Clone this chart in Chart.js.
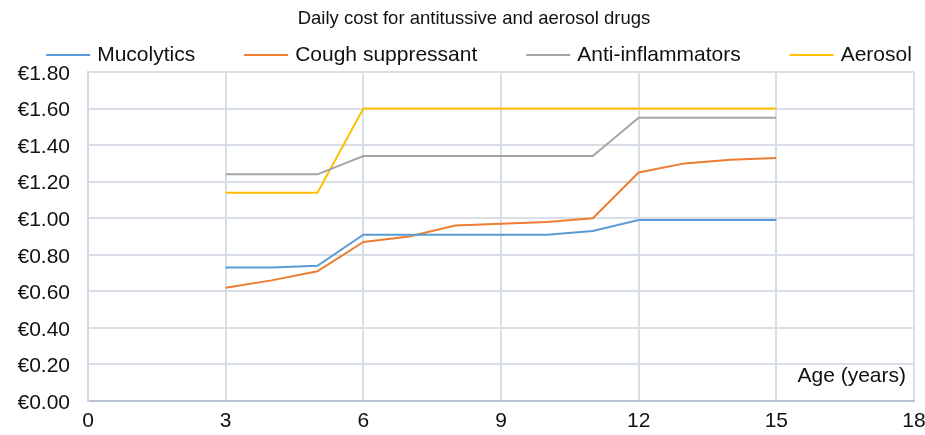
<!DOCTYPE html>
<html>
<head>
<meta charset="utf-8">
<script src="https://cdn.jsdelivr.net/npm/chart.js@4.4.1/dist/chart.umd.min.js"></script>
<style>
    html, body { margin: 0; padding: 0; background: #fff; }
    #wrap { width: 925px; height: 435px; }
</style>
</head>
<body>
<div id="wrap"><canvas id="costChart"></canvas></div>
<script>
// ages in years
const ages = [3, 4, 5, 6, 7, 8, 9, 10, 11, 12, 13, 14, 15];
const mucolytics = [0.73, 0.73, 0.74, 0.91, 0.91, 0.91, 0.91, 0.91, 0.93, 0.99, 0.99, 0.99, 0.99];
const coughSuppressant = [0.62, 0.66, 0.71, 0.87, 0.90, 0.96, 0.97, 0.98, 1.00, 1.25, 1.30, 1.32, 1.33];
const antiInflammatory = [1.24, 1.24, 1.24, 1.34, 1.34, 1.34, 1.34, 1.34, 1.34, 1.55, 1.55, 1.55, 1.55];
const aerosol = [1.14, 1.14, 1.14, 1.60, 1.60, 1.60, 1.60, 1.60, 1.60, 1.60, 1.60, 1.60, 1.60];
const xTicks = [0, 3, 6, 9, 12, 15, 18];

const FONT = 'Liberation Sans, Arial, sans-serif';
const TITLE = 'Daily cost for antitussive and aerosol drugs';
const pts = (vals) => vals.map((v, i) => ({ x: ages[i], y: v }));
const line = (label, vals, color) => ({
    label, data: pts(vals), borderColor: color, backgroundColor: color,
    borderWidth: 2, pointRadius: 0, tension: 0, fill: false,
});

// title, legend row and the in-plot "Age (years)" label
const decorations = {
    id: 'decorations',
    afterDraw(chart) {
        const { ctx, chartArea } = chart;
        ctx.save();
        ctx.fillStyle = '#111';
        ctx.textBaseline = 'middle';

        ctx.font = `18.5px ${FONT}`;
        ctx.textAlign = 'center';
        ctx.fillText(TITLE, 474, 19);

        ctx.font = `21px ${FONT}`;
        ctx.textAlign = 'right';
        ctx.fillText('Age (years)', chartArea.right - 8, chartArea.bottom - 25);

        ctx.textAlign = 'left';
        const sample = 44, gapText = 7, gapItem = 49, y = 55, center = 479;
        const items = chart.data.datasets.map((ds) => ({ ds, w: ctx.measureText(ds.label).width }));
        const total = items.reduce((s, it) => s + sample + gapText + it.w, 0) + gapItem * (items.length - 1);
        let x = center - total / 2;
        items.forEach(({ ds, w }) => {
            ctx.strokeStyle = ds.borderColor;
            ctx.lineWidth = 2;
            ctx.beginPath();
            ctx.moveTo(x, y);
            ctx.lineTo(x + sample, y);
            ctx.stroke();
            ctx.fillText(ds.label, x + sample + gapText, y);
            x += sample + gapText + w + gapItem;
        });
        ctx.restore();
    },
};

new Chart(document.getElementById('costChart'), {
    type: 'line',
    data: {
        datasets: [
            line('Mucolytics', mucolytics, '#5b9bd5'),
            line('Cough suppressant', coughSuppressant, '#ed7d31'),
            line('Anti-inflammators', antiInflammatory, '#a5a5a5'),
            line('Aerosol', aerosol, '#ffc000'),
        ],
    },
    options: {
        responsive: true,
        maintainAspectRatio: false,
        animation: false,
        layout: { padding: { left: 0, right: 0, top: 72, bottom: 0 } },
        plugins: {
            title: { display: false },
            legend: { display: false },
            tooltip: { enabled: false },
        },
        scales: {
            x: {
                type: 'linear',
                min: 0,
                max: 18,
                afterBuildTicks: (s) => { s.ticks = xTicks.map((v) => ({ value: v })); },
                afterFit: (s) => { s.height = 34; s.paddingRight = 11; },
                grid: { color: '#d9dfe7', lineWidth: 2, drawTicks: false },
                border: { color: '#b7c3d3', width: 2 },
                ticks: { color: '#111', font: { family: FONT, size: 21 }, padding: 8 },
            },
            y: {
                min: 0,
                max: 1.8,
                afterFit: (s) => { s.width = 88; s.paddingTop = 0; },
                grid: { color: '#d9dfe7', lineWidth: 2, drawTicks: false },
                border: { color: '#d0d8e2', width: 2 },
                ticks: {
                    stepSize: 0.2,
                    color: '#111',
                    font: { family: FONT, size: 21 },
                    padding: 18,
                    labelOffset: 2,
                    callback: (v) => '€' + Number(v).toFixed(2),
                },
            },
        },
    },
    plugins: [decorations],
});
</script>
</body>
</html>
